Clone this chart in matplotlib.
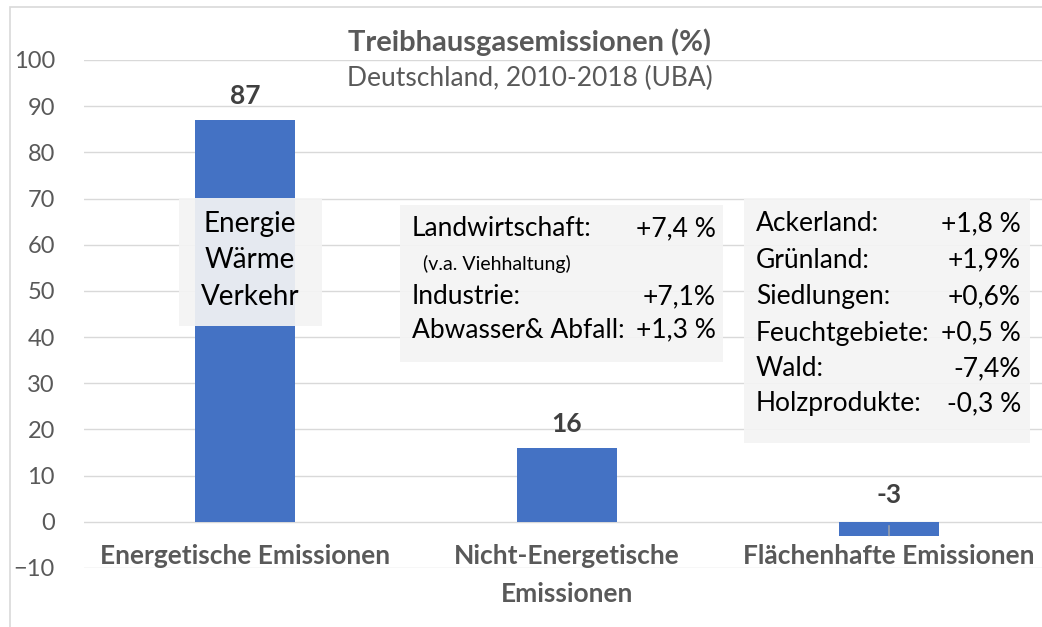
import matplotlib.pyplot as plt
from matplotlib.patches import Rectangle

plt.rcParams['font.family'] = ['Lato', 'DejaVu Sans']

# Daten
kategorien = ["Energetische Emissionen", "Nicht-Energetische\nEmissionen", "Flächenhafte Emissionen"]
werte = [87, 16, -3]
y_ticks = [-10, 0, 10, 20, 30, 40, 50, 60, 70, 80, 90, 100]

box_energie = ["Energie", "Wärme", "Verkehr"]
nicht_energie_namen = ["Landwirtschaft:", "Industrie:", "Abwasser& Abfall:"]
nicht_energie_werte = ["+7,4 %", "+7,1%", "+1,3 %"]
flaeche_namen = ["Ackerland:", "Grünland:", "Siedlungen:", "Feuchtgebiete:", "Wald:", "Holzprodukte:"]
flaeche_werte = ["+1,8 %", "+1,9%", "+0,6%", "+0,5 %", "-7,4%", "-0,3 %"]

W, H = 1042, 627
grau = '#595959'
blau = '#4472C4'


def fx(x):
    return x / W


def fy(y):
    return 1 - y / H


fig = plt.figure(figsize=(W / 100, H / 100), dpi=100)
ax = fig.add_axes([fx(84), fy(568), fx(1050) - fx(84), fy(60) - fy(568)])

x = list(range(len(werte)))
ax.bar(x, werte, width=0.31, color=blau, zorder=2)
ax.set_xlim(-0.5, 2.5)
ax.set_ylim(-10, 100)
ax.set_yticks(y_ticks)
ax.tick_params(axis='y', length=0, pad=21, labelsize=17, labelcolor=grau)
ax.set_xticks([])
ax.grid(axis='y', color='#D9D9D9', linewidth=1, zorder=0)
ax.set_axisbelow(True)
for s in ax.spines.values():
    s.set_visible(False)

# Werte über den Balken
for i, v in enumerate(werte):
    off = 12 if v >= 0 else 15
    ax.annotate(str(v), (i, max(v, 0)), xytext=(0, off), textcoords='offset pixels',
                ha='center', va='bottom', fontsize=19, fontweight='bold', color='#404040')
# Führungslinie für -3
ax.annotate('', (x[2], werte[2]), xytext=(0, 10), textcoords='offset pixels',
            arrowprops=dict(arrowstyle='-', color='#A6A6A6', lw=1, shrinkA=0, shrinkB=0))

# Kategorien an der Nulllinie
for i, k in enumerate(kategorien):
    ax.annotate(k, (i, 0), xytext=(0, -22), textcoords='offset pixels',
                ha='center', va='top', fontsize=19, fontweight='bold', color=grau,
                linespacing=1.7)

# Titel
fig.text(fx(530), fy(42), "Treibhausgasemissionen (%)", ha='center', va='center',
         fontsize=21, fontweight='bold', color=grau)
fig.text(fx(530), fy(78), "Deutschland, 2010-2018 (UBA)", ha='center', va='center',
         fontsize=19, color=grau)

# Textfelder
def kasten(x0, y0, x1, y1):
    fig.patches.append(Rectangle((fx(x0), fy(y1)), fx(x1) - fx(x0), fy(y0) - fy(y1),
                                 transform=fig.transFigure, facecolor='#F4F4F4',
                                 edgecolor='none', alpha=0.92, zorder=3))


def zeile(xx, yy, s, ha='left', size=19):
    fig.text(fx(xx), fy(yy), s, ha=ha, va='center', fontsize=size, color='black', zorder=4)


kasten(179, 198, 322, 326)
for s, yy in zip(box_energie, [224, 260, 297]):
    zeile(250, yy, s, ha='center', size=20)

kasten(400, 205, 723, 362)
for n, w, yy in zip(nicht_energie_namen, nicht_energie_werte, [229, 297, 330]):
    zeile(412, yy, n)
    zeile(716, yy, w, ha='right')
zeile(423, 264, "(v.a. Viehhaltung)", size=14)

kasten(744, 198, 1030, 443)
for n, w, yy in zip(flaeche_namen, flaeche_werte, [224, 260, 297, 333, 369, 404]):
    zeile(756, yy, n)
    zeile(1021, yy, w, ha='right')

# Rahmen
fig.patches.append(Rectangle((fx(10), fy(640)), fx(1100) - fx(10), fy(7) - fy(640),
                             transform=fig.transFigure, facecolor='none',
                             edgecolor='#D9D9D9', lw=1.2, zorder=1))

fig.savefig('out.png', dpi=100)
